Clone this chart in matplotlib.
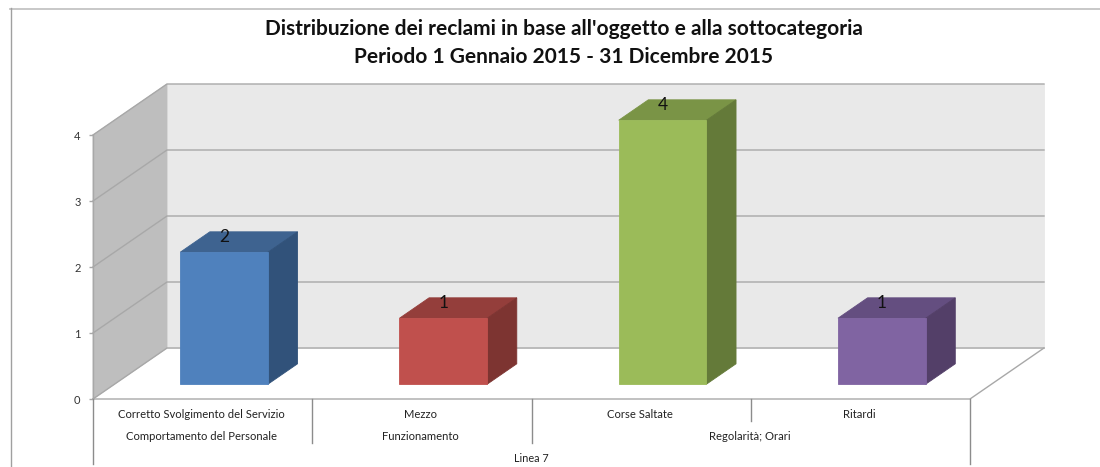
import matplotlib
matplotlib.use('Agg')
import matplotlib.pyplot as plt
from matplotlib.lines import Line2D
from matplotlib.patches import Polygon

# chart data
categories = ['Corretto Svolgimento del Servizio', 'Mezzo', 'Corse Saltate', 'Ritardi']
values = [2, 1, 4, 1]
groups = ['Comportamento del Personale', 'Funzionamento', 'Regolarità; Orari']
group_spans = [(0, 1), (1, 2), (2, 4)]
top_group = 'Linea 7'
y_ticks = [0, 1, 2, 3, 4]
title = "Distribuzione dei reclami in base all'oggetto e alla sottocategoria\nPeriodo 1 Gennaio 2015 - 31 Dicembre 2015"

front_colors = ['#4f81bd', '#c0504d', '#9bbb59', '#8064a2']
top_colors = ['#3e6390', '#943e3b', '#7a9446', '#644e80']
side_colors = ['#31527a', '#7d3431', '#647a39', '#533f68']

W, H = 1100, 467
# oblique depth of the floor, in data units
DX = 74 / 219.25
DY = 51 / 66
BAR_W = 0.4
D0, D1 = 0.29, 0.69
PX = 0.72  # points per pixel at dpi 100

plt.rcParams['font.family'] = ['Lato', 'DejaVu Sans']
fig = plt.figure(figsize=(W / 100, H / 100), dpi=100)
# outer frame: only top and left show, the rest is cut off
fig.add_artist(Line2D([10 / W, 1], [1 - 8.5 / H, 1 - 8.5 / H], color='#c4c4c4', lw=1.3))
fig.add_artist(Line2D([10.5 / W, 10.5 / W], [0, 1 - 8 / H], color='#a0a0a0', lw=1))

ax = fig.add_axes([93 / W, (H - 399) / H, 877 / W, 264 / H])
ax.set_xlim(0, 4)
ax.set_ylim(0, 4)
ax.patch.set_alpha(0)
for s in ax.spines.values():
    s.set_visible(False)


def proj(x, y, d):
    return (x + d * DX, y + d * DY)


def poly(pts, color, z=1):
    ax.add_patch(Polygon(pts, closed=True, fc=color, ec=color, lw=0.6, clip_on=False, zorder=z))


# walls and floor
poly([proj(0, 0, 1), proj(4, 0, 1), proj(4, 4, 1), proj(0, 4, 1)], '#e9e9e9')
poly([proj(0, 0, 0), proj(0, 0, 1), proj(0, 4, 1), proj(0, 4, 0)], '#bebebe')
line = dict(color='#a8a8a8', lw=1, clip_on=False, zorder=2)
for t in y_ticks:
    a, b, c = proj(0, t, 0), proj(0, t, 1), proj(4, t, 1)
    ax.plot([a[0], b[0], c[0]], [a[1], b[1], c[1]], **line)
b = proj(4, 0, 1)
ax.plot([0, 4, b[0]], [0, 0, b[1]], **line)
ax.plot([0, 0], [0, 4], **line)

# bars
for i, v in enumerate(values):
    x0 = i + 0.5 - BAR_W / 2
    x1 = i + 0.5 + BAR_W / 2
    poly([proj(x0, v, D0), proj(x1, v, D0), proj(x1, v, D1), proj(x0, v, D1)], top_colors[i], 3)
    poly([proj(x1, 0, D0), proj(x1, 0, D1), proj(x1, v, D1), proj(x1, v, D0)], side_colors[i], 3)
    poly([proj(x0, 0, D0), proj(x1, 0, D0), proj(x1, v, D0), proj(x0, v, D0)], front_colors[i], 4)
    ax.annotate(str(v), proj(i + 0.5, v, D0), xytext=(0, 15 * PX), textcoords='offset points',
                ha='center', va='center', fontsize=12.5, color='#111111', zorder=5, annotation_clip=False)

ax.set_yticks(y_ticks)
ax.set_yticklabels([str(t) for t in y_ticks], fontsize=8, color='#333333')
ax.tick_params(axis='y', length=3, width=1, color='#a8a8a8', pad=6)
ax.set_xticks([])

# multi level category axis, offsets below the floor
for i, c in enumerate(categories):
    ax.annotate(c, (i + 0.5, 0), xytext=(-1, -16 * PX), textcoords='offset points', ha='center', va='center',
                fontsize=8.1, color='#222222', annotation_clip=False)
for g, (s, e) in zip(groups, group_spans):
    ax.annotate(g, ((s + e) / 2, 0), xytext=(-1, -38 * PX), textcoords='offset points', ha='center', va='center',
                fontsize=8.1, color='#222222', annotation_clip=False)
ax.annotate(top_group, (2, 0), xytext=(0, -59 * PX), textcoords='offset points', ha='center', va='center',
            fontsize=7.8, color='#222222', annotation_clip=False)

sep_depth = {0: 65, 1: 44, 2: 44, 3: 22, 4: 65}
for x, d in sep_depth.items():
    ax.plot([x, x], [0, -d / 66], color='#8c8c8c', lw=1, clip_on=False, zorder=2)

fig.text(564 / W, 1 - 43 / H, title, ha='center', va='center', fontsize=15, fontweight='bold',
         color='#111111', linespacing=1.5)

fig.savefig('out.png', dpi=100)
